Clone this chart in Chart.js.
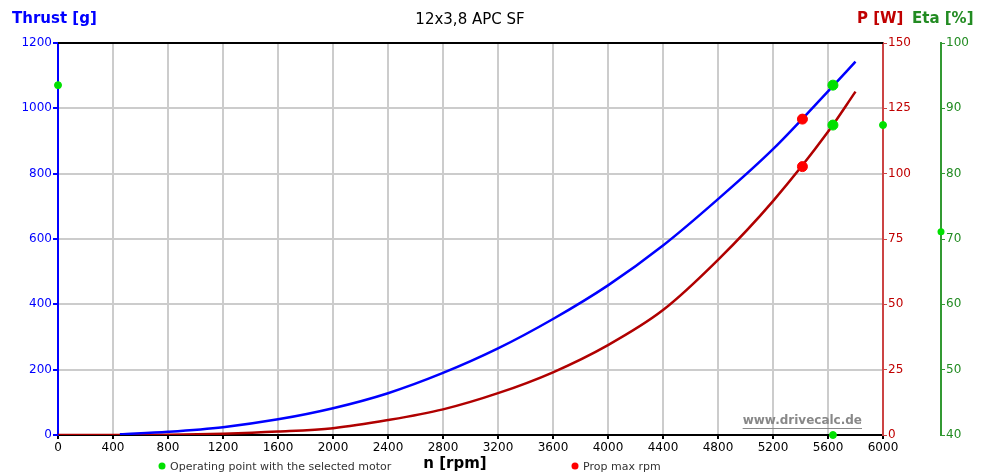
<!DOCTYPE html>
<html>
<head>
<meta charset="utf-8">
<script src="https://cdn.jsdelivr.net/npm/chart.js@4"></script>
<style>
  html, body { margin: 0; padding: 0; background: #fff; }
  #wrap { width: 983px; height: 475px; position: relative; }
</style>
</head>
<body>
<div id="wrap"><canvas id="chartProp"></canvas></div>
<script>
// values
const thrustRpm = [450, 800, 1200, 1600, 2000, 2400, 2800, 3200, 3600, 4000, 4400, 4800, 5200, 5600, 5800];
const thrust    = [2, 10, 24, 48, 82, 128, 190, 265, 355, 458, 580, 722, 875, 1052, 1143];
const powerRpm  = [0, 400, 800, 1200, 1600, 2000, 2400, 2800, 3200, 3600, 4000, 4400, 4800, 5200, 5600, 5800];
const power     = [0, 0, 0.1, 0.5, 1.3, 2.6, 5.7, 9.8, 16, 24, 34.4, 47.8, 67, 89.5, 116, 131.4];

// operating point with the selected motor
const opRpm = 5636, opThrust = 1071, opPower = 118.6, opEta = 71.1;
// prop max rpm
const maxRpm = 5414, maxThrust = 967, maxPower = 102.7;

const BLUE = '#0000ff', DARKRED = '#b00000', GREEN = '#00e000';

function pts(xs, ys){ return xs.map((x, i) => ({ x: x, y: ys[i] })); }
const plain = v => String(v);

Chart.defaults.font.family = 'DejaVu Sans';
Chart.defaults.font.size = 12;

const textPlugin = {
  id: 'texts',
  afterDraw(chart){
    const ctx = chart.ctx;
    const a = chart.chartArea;
    const sEta = chart.scales.y2;
    ctx.save();
    // top frame line
    ctx.strokeStyle = '#000'; ctx.lineWidth = 2;
    ctx.beginPath(); ctx.moveTo(a.left, a.top); ctx.lineTo(a.right, a.top); ctx.stroke();

    // eta marker on its own axis
    ctx.fillStyle = GREEN;
    ctx.beginPath(); ctx.arc(sEta.left, sEta.getPixelForValue(opEta), 3.5, 0, Math.PI * 2); ctx.fill();

    ctx.textBaseline = 'middle';
    ctx.font = '15px DejaVu Sans'; ctx.fillStyle = '#000'; ctx.textAlign = 'center';
    ctx.fillText('12x3,8 APC SF', 470, 20);

    ctx.font = 'bold 15px DejaVu Sans'; ctx.textAlign = 'left';
    ctx.fillStyle = BLUE; ctx.fillText('Thrust [g]', 12, 19);
    ctx.fillStyle = '#c00000'; ctx.fillText('P [W]', 857, 19);
    ctx.fillStyle = '#228b22'; ctx.fillText('Eta [%]', 912, 19);

    ctx.fillStyle = '#000'; ctx.textAlign = 'center';
    ctx.fillText('n [rpm]', 455, 464);

    // legend
    ctx.font = '11px DejaVu Sans'; ctx.textAlign = 'left'; ctx.fillStyle = '#333';
    ctx.fillText('Operating point with the selected motor', 170, 467);
    ctx.fillText('Prop max rpm', 583, 467);
    ctx.fillStyle = GREEN;
    ctx.beginPath(); ctx.arc(162, 466, 3.5, 0, Math.PI * 2); ctx.fill();
    ctx.fillStyle = '#ff0000';
    ctx.beginPath(); ctx.arc(575, 466, 3.5, 0, Math.PI * 2); ctx.fill();

    // watermark
    ctx.font = 'bold 12px DejaVu Sans'; ctx.fillStyle = '#888'; ctx.textAlign = 'right';
    ctx.fillText('www.drivecalc.de', 862, 421);
    const w = ctx.measureText('www.drivecalc.de').width;
    ctx.strokeStyle = '#888'; ctx.lineWidth = 1;
    ctx.beginPath(); ctx.moveTo(862 - w, 428.5); ctx.lineTo(862, 428.5); ctx.stroke();
    ctx.restore();
  }
};

const cfg = {
  type: 'scatter',
  data: {
    datasets: [
      { label: 'op thrust', data: [{ x: opRpm, y: opThrust }], yAxisID: 'y', backgroundColor: GREEN, borderColor: GREEN, pointRadius: 5 },
      { label: 'op power', data: [{ x: opRpm, y: opPower }], yAxisID: 'y1', backgroundColor: GREEN, borderColor: GREEN, pointRadius: 5 },
      { label: 'max thrust', data: [{ x: maxRpm, y: maxThrust }], yAxisID: 'y', backgroundColor: '#ff0000', borderColor: '#ff0000', pointRadius: 5 },
      { label: 'max power', data: [{ x: maxRpm, y: maxPower }], yAxisID: 'y1', backgroundColor: '#ff0000', borderColor: '#ff0000', pointRadius: 5 },
      { label: 'axis marks', data: [{ x: 0, y: opThrust }, { x: opRpm, y: 0 }], yAxisID: 'y', backgroundColor: GREEN, borderColor: GREEN, pointRadius: 3.5, clip: false },
      { label: 'P axis mark', data: [{ x: 6000, y: opPower }], yAxisID: 'y1', backgroundColor: GREEN, borderColor: GREEN, pointRadius: 3.5, clip: false },
      { label: 'Thrust', data: pts(thrustRpm, thrust), yAxisID: 'y', showLine: true, borderColor: BLUE, borderWidth: 2.5, pointRadius: 0, cubicInterpolationMode: 'monotone' },
      { label: 'Power', data: pts(powerRpm, power), yAxisID: 'y1', showLine: true, borderColor: DARKRED, borderWidth: 2.5, pointRadius: 0, cubicInterpolationMode: 'monotone' }
    ]
  },
  options: {
    responsive: true,
    maintainAspectRatio: false,
    animation: false,
    layout: { padding: { top: 43, left: 0, right: 0, bottom: 0 } },
    plugins: { legend: { display: false }, tooltip: { enabled: false }, title: { display: false } },
    scales: {
      x: {
        type: 'linear', min: 0, max: 6000,
        ticks: { stepSize: 400, color: '#000', autoSkip: false, maxRotation: 0, padding: 2, callback: plain },
        grid: { color: '#cccccc', lineWidth: 2, tickColor: '#000', tickLength: 4 },
        border: { color: '#000', width: 2 },
        afterFit: s => { s.height = 40; }
      },
      y: {
        position: 'left', min: 0, max: 1200,
        ticks: { stepSize: 200, color: BLUE, padding: 1, callback: plain },
        grid: { color: '#cccccc', lineWidth: 2, tickColor: BLUE, tickLength: 5 },
        border: { color: BLUE, width: 2 },
        afterFit: s => { s.width = 58; }
      },
      y1: {
        position: 'right', min: 0, max: 150,
        ticks: { stepSize: 25, color: '#c00000', padding: 1, callback: plain },
        grid: { drawOnChartArea: false, tickColor: '#cc4444', tickLength: 4 },
        border: { color: '#cc4444', width: 2 },
        afterFit: s => { s.width = 58; }
      },
      y2: {
        position: 'right', min: 40, max: 100,
        ticks: { stepSize: 10, color: '#228b22', padding: 1, callback: plain },
        grid: { drawOnChartArea: false, tickColor: '#339933', tickLength: 4 },
        border: { color: '#339933', width: 2 },
        afterFit: s => { s.width = 42; }
      }
    }
  },
  plugins: [textPlugin]
};

new Chart(document.getElementById('chartProp').getContext('2d'), cfg);
</script>
</body>
</html>
